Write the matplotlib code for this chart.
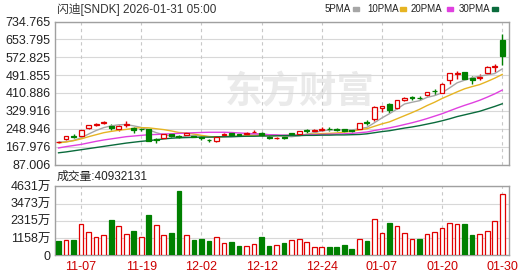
import numpy as np
import matplotlib.pyplot as plt
from matplotlib import font_manager
from matplotlib.patches import Rectangle

plt.rcParams['font.family'] = ['Liberation Sans', 'Noto Sans CJK SC', 'DejaVu Sans']

# title / labels
title = '闪迪[SNDK] 2026-01-31 05:00'
vol_title = '成交量:40932131'
ma_names = ['5PMA', '10PMA', '20PMA', '30PMA']

# x axis: 60 trading days, date labels every 8 bars
tick_idx = [3, 11, 19, 27, 35, 43, 51, 59]
tick_labels = ['11-07', '11-19', '12-02', '12-12', '12-24', '01-07', '01-20', '01-30']

# price axis
price_ticks = [87.006, 167.976, 248.946, 329.916, 410.886, 491.855, 572.825, 653.795, 734.765]
price_labels = ['87.006', '167.976', '248.946', '329.916', '410.886',
                '491.855', '572.825', '653.795', '734.765']

# volume axis (万)
vol_ticks = [0, 1158, 2315, 3473, 4631]
vol_labels = ['0', '1158万', '2315万', '3473万', '4631万']

# daily candles
opens = [189, 203, 218, 214, 252, 266, 276, 262, 246, 264,
         253, 249, 248, 201, 208, 224, 218, 222, 218, 212,
         200, 193, 220, 228, 223, 226, 232, 230, 213, 206,
         210, 229, 227, 242, 238, 243, 250, 248, 246, 242,
         248, 280, 293, 345, 361, 342, 378, 392, 390, 401,
         421, 413, 468, 497, 505, 478, 481, 501, 530, 652]
highs = [194, 216, 224, 245, 268, 276, 286, 270, 267, 282,
         257, 252, 250, 207, 226, 227, 222, 232, 221, 216,
         203, 214, 228, 235, 226, 232, 245, 233, 214, 210,
         214, 231, 241, 248, 247, 256, 258, 252, 250, 245,
         277, 288, 351, 354, 365, 381, 392, 397, 397, 417,
         430, 454, 503, 509, 507, 490, 498, 531, 543, 678]
lows = [186, 200, 205, 212, 248, 260, 272, 244, 239, 258,
        231, 238, 192, 185, 206, 210, 208, 219, 210, 199,
        190, 190, 218, 220, 216, 224, 228, 216, 204, 204,
        203, 221, 225, 230, 235, 240, 240, 238, 236, 235,
        246, 266, 283, 327, 322, 338, 375, 381, 378, 398,
        400, 410, 453, 475, 474, 453, 472, 499, 508, 538]
closes = [191, 214, 211, 242, 266, 272, 280, 252, 263, 271,
          245, 246, 195, 198, 225, 216, 212, 228, 213, 209,
          197, 212, 225, 222, 219, 230, 236, 220, 206, 208,
          205, 226, 239, 240, 243, 247, 246, 244, 241, 239,
          275, 274, 349, 351, 336, 378, 388, 389, 386, 414,
          418, 451, 500, 502, 476, 472, 485, 528, 535, 580]

# moving averages
ma5 = [188, 190, 196, 208, 225, 241, 254, 262, 267, 268,
       262, 255, 244, 231, 222, 216, 209, 216, 219, 216,
       212, 212, 211, 213, 215, 222, 226, 225, 222, 220,
       215, 213, 217, 224, 231, 239, 243, 244, 244, 243,
       249, 255, 276, 298, 317, 338, 361, 369, 376, 391,
       399, 412, 434, 457, 469, 480, 487, 493, 499, 520]
ma10 = [185, 189, 195, 203, 213, 222, 231, 237, 242, 246,
        251, 254, 253, 249, 245, 239, 232, 230, 225, 219,
        214, 211, 214, 216, 215, 217, 219, 218, 218, 218,
        218, 220, 221, 223, 225, 227, 228, 230, 234, 237,
        244, 249, 260, 271, 280, 294, 308, 322, 337, 354,
        369, 386, 401, 416, 430, 440, 449, 463, 478, 495]
ma20 = [162, 168, 173, 178, 185, 192, 198, 203, 208, 213,
        216, 219, 222, 223, 225, 226, 228, 229, 231, 232,
        233, 233, 233, 232, 230, 228, 226, 224, 222, 221,
        220, 220, 220, 221, 222, 223, 224, 225, 226, 228,
        231, 234, 241, 247, 253, 260, 268, 276, 285, 295,
        306, 317, 330, 343, 355, 366, 378, 392, 407, 424]
ma30 = [140, 144, 149, 154, 159, 164, 169, 174, 179, 184,
        188, 192, 195, 199, 203, 206, 208, 209, 210, 211,
        211, 212, 213, 213, 214, 215, 215, 216, 216, 217,
        218, 218, 218, 219, 219, 220, 220, 221, 221, 222,
        223, 226, 231, 236, 240, 246, 252, 257, 263, 270,
        277, 285, 294, 304, 312, 320, 328, 339, 350, 362]

# volume in 万, and whether the close was up from the previous day
volume = [956, 1000, 1024, 2081, 1541, 1204, 1339, 2374, 1946, 1406,
          1631, 1226, 2711, 2014, 1339, 1496, 4331, 1339, 1024, 1091,
          956, 1204, 799, 889, 619, 596, 731, 1226, 619, 664,
          821, 1001, 1091, 866, 551, 551, 574, 574, 686, 439,
          1091, 979, 2441, 1496, 2171, 1969, 1496, 1091, 1091, 1429,
          1564, 1834, 2149, 2104, 2104, 1361, 1429, 1631, 2306, 4093]
vol_up = [0, 1, 0, 1, 1, 1, 1, 0, 1, 1,
          0, 1, 0, 1, 1, 0, 0, 1, 0, 0,
          0, 1, 1, 0, 0, 1, 1, 0, 0, 1,
          0, 1, 1, 1, 1, 1, 0, 0, 0, 0,
          1, 0, 1, 1, 0, 1, 1, 1, 0, 1,
          1, 1, 1, 1, 0, 0, 1, 1, 1, 1]

RED = '#e00000'
GREEN = '#008000'
ma_colors = ['#a6a6a6', '#e6b422', '#e040e0', '#0a6b3c']
GRID = '#d8d8d8'
SPINE = '#a0a0a0'

W, H = 530, 276
fig = plt.figure(figsize=(W / 100, H / 100), dpi=100)
ax = fig.add_axes([55 / W, 1 - 164.5 / H, 454 / W, 143 / H])
axv = fig.add_axes([55 / W, 1 - 255.3 / H, 454 / W, 69 / H])

x = np.arange(len(closes))
o = np.array(opens, float)
c = np.array(closes, float)
up = c >= o

# watermark
ax.text(300 / W, 1 - 92 / H, '东方财富', transform=fig.transFigure, ha='center', va='center',
        fontsize=27, fontweight='bold', color='#eaeaea', family=['Noto Sans CJK SC'], zorder=0.2)

# candles
cc = np.where(up, RED, GREEN)
ax.vlines(x, lows, highs, colors=cc, lw=1, zorder=2)
body_h = np.maximum(np.abs(c - o), 1.2)
ax.bar(x, body_h, bottom=np.minimum(o, c), width=0.64,
       facecolor=np.where(up, 'white', GREEN), edgecolor=cc, lw=0.9, zorder=3)

for vals, col in zip([ma5, ma10, ma20, ma30], ma_colors):
    ax.plot(x, vals, color=col, lw=1, zorder=2.5)

# volume bars
vu = np.array(vol_up, bool)
vc = np.where(vu, RED, GREEN)
axv.bar(x, volume, width=0.62, facecolor=np.where(vu, 'white', GREEN),
        edgecolor=vc, lw=0.9, zorder=3)

for a, ylim, ticks, labels in [(ax, (87.006, 734.765), price_ticks, price_labels),
                               (axv, (0, 4631), vol_ticks, vol_labels)]:
    a.set_xlim(-0.47, 59.9)
    a.set_ylim(*ylim)
    a.set_yticks(ticks)
    a.set_yticklabels(labels, fontsize=9, color='#222222')
    a.grid(axis='y', color=GRID, lw=0.8, zorder=0.5)
    a.set_axisbelow(True)
    for p in tick_idx:
        a.axvline(p, color='#c8c8c8', lw=0.8, ls=(0, (3, 3)), zorder=0.6)
    for s in a.spines.values():
        s.set_color(SPINE)
        s.set_linewidth(1)
    a.tick_params(axis='y', length=0, pad=3)

ax.set_xticks([])
axv.set_xticks(tick_idx)
axv.set_xticklabels(tick_labels, fontsize=9, color='#cc0000')
axv.tick_params(axis='x', length=0, pad=4)

# header texts
fig.text(57 / W, 1 - 9 / H, title, fontsize=8.5, color='#333333', va='center')
fig.text(57 / W, 1 - 176.5 / H, vol_title, fontsize=8.5, color='#222222', va='center')

# legend: label then a short colour dash (narrow font if there is one)
names = {f.name for f in font_manager.fontManager.ttflist}
if 'Liberation Sans Narrow' in names:
    leg_font, leg_size = ['Liberation Sans Narrow'], 8.5
else:
    leg_font, leg_size = ['Liberation Sans'], 7
leg_x = [325, 367, 411, 459]
dash_x = [353, 400, 447, 492]
for name, col, lx, dx in zip(ma_names, ma_colors, leg_x, dash_x):
    fig.text(lx / W, 1 - 9 / H, name, fontsize=leg_size, family=leg_font,
             color='#222222', va='center')
    fig.patches.append(Rectangle((dx / W, 1 - 10.5 / H), 6 / W, 3 / H,
                                 transform=fig.transFigure, color=col))

fig.savefig('out.png', dpi=100, facecolor='white')
